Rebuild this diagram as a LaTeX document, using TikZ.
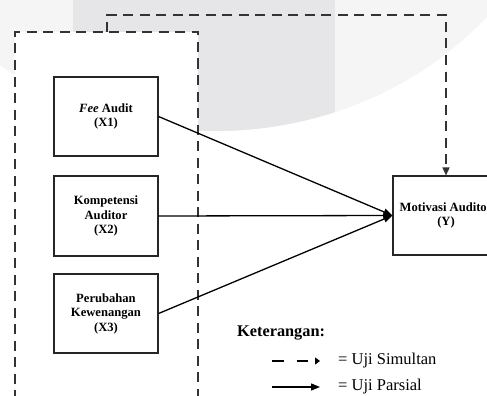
\documentclass[tikz,border=0pt]{standalone}
\usepackage{fontspec}
\setmainfont{Liberation Serif}
\usetikzlibrary{arrows.meta}
\definecolor{wmdark}{HTML}{E6E6E8}
\definecolor{wmlight}{HTML}{F5F5F6}
\definecolor{dashgray}{HTML}{333333}
\tikzset{
  varbox/.style={draw=black!85, line width=1.1pt, fill=white, minimum width=104pt, minimum height=79pt, inner sep=2pt, align=center, font=\fontsize{12.6}{14.5}\selectfont\bfseries},
  partial/.style={draw=black, line width=1.3pt, -{Triangle[length=9pt,width=7pt]}},
  simul/.style={draw=dashgray, line width=1.4pt, dash pattern=on 10pt off 6.5pt},
  legtext/.style={font=\fontsize{16.5}{18}\selectfont, anchor=west, inner sep=0pt},
}
\begin{document}
\begin{tikzpicture}[x=1pt,y=-1pt]
\useasboundingbox (0,0) rectangle (487,396);
\clip (0,0) rectangle (487,396);
% watermark
\fill[wmlight] (215,-200) ellipse [x radius=360, y radius=331];
\begin{scope}
\clip (215,-200) ellipse [x radius=360, y radius=331];
\fill[wmdark] (73,0) rectangle (335,200);
\end{scope}
% left dashed group box
\fill[white] (15,32) rectangle (198,400);
\draw[simul] (15,400) -- (15,32) -- (198,32) -- (198,400);
% variable boxes
\node[varbox] (x1) at (106,116.5) {\textit{Fee} Audit\\(X1)};
\node[varbox, minimum height=80pt] (x2) at (106,216) {Kompetensi\\Auditor\\(X2)};
\node[varbox] (x3) at (106,313.5) {Perubahan\\Kewenangan\\(X3)};
\node[varbox, minimum width=106pt] (y) at (446,215.5) {Motivasi Auditor\\(Y)};
% simultaneous path
\coordinate (gtop) at (107,32);
\draw[simul, -{Triangle[length=8pt,width=7pt]}] (gtop) -- (107,15) -- (446,15) -- (y.north);
% partial arrows
\draw[partial] (x1.east) -- (y.west);
\draw[partial] (x2.east) -- (y.west);
\draw[partial] (x3.east) -- (y.west);
% legend
\node[legtext, font=\fontsize{16.3}{18}\selectfont\bfseries] (ket) at (237,333) {Keterangan:};
\coordinate (l1a) at (272,361);
\coordinate (l1b) at (320,361);
\coordinate (l2a) at (272,387);
\coordinate (l2b) at (320,387);
\draw[draw=black, line width=1.4pt, dash pattern=on 11.5pt off 13pt, -{Triangle[length=5pt,width=7pt]}] (l1a) -- (l1b);
\draw[partial] (l2a) -- (l2b);
\node[legtext] (t1) at (338,361) {= Uji Simultan};
\node[legtext] (t2) at (338,387) {= Uji Parsial};
\end{tikzpicture}
\end{document}
